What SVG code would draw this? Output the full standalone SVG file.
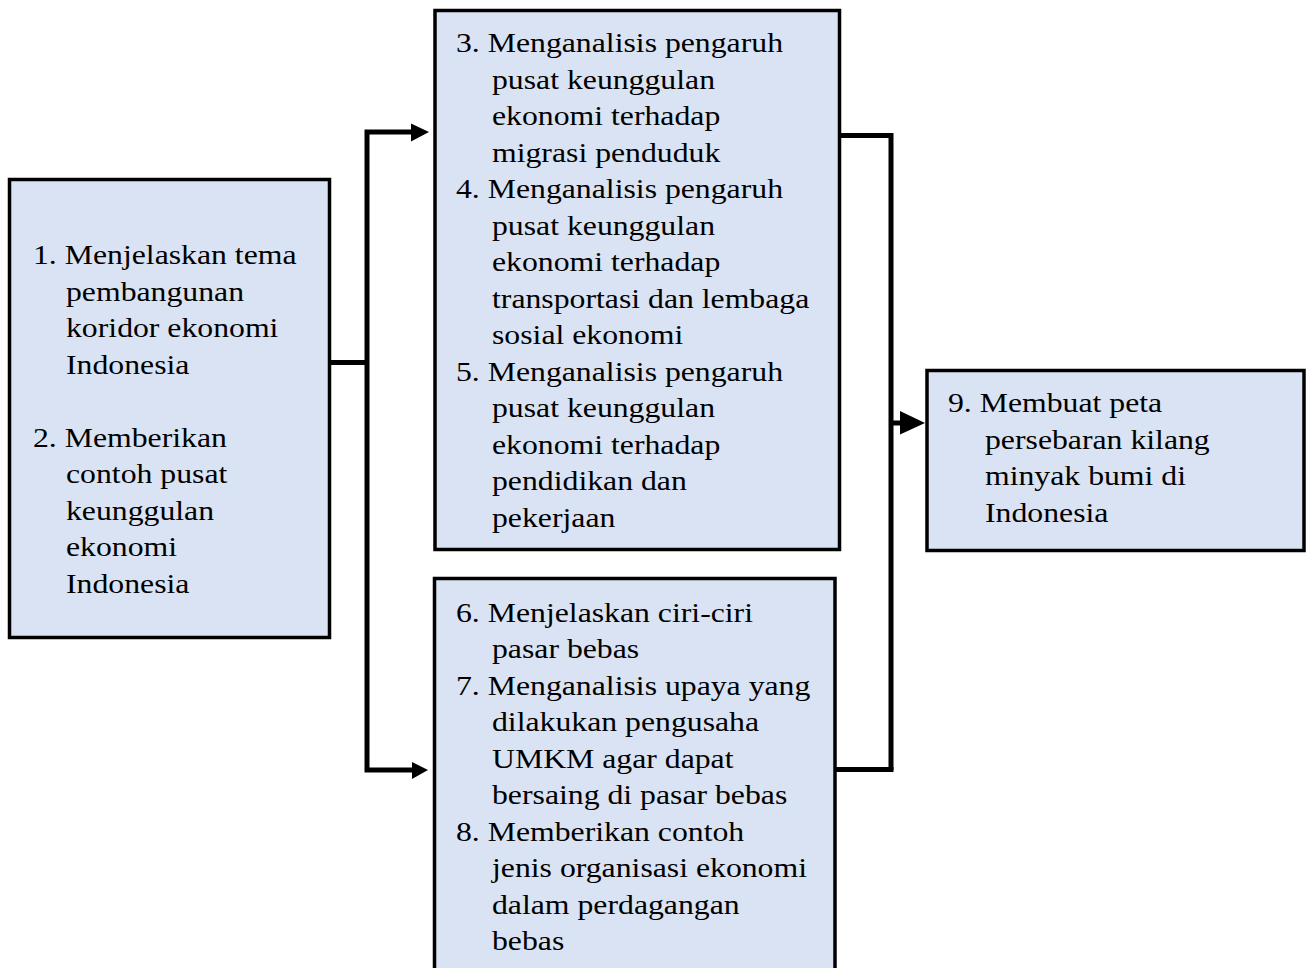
<svg xmlns="http://www.w3.org/2000/svg" width="1307" height="968" viewBox="0 0 1307 968">
<style>
.box{fill:#dae3f3;stroke:#000;stroke-width:3.5}
.t{font-family:"Liberation Serif","Times New Roman",serif;font-size:28px;fill:#000}
.ln{fill:none;stroke:#000;stroke-width:5;stroke-linejoin:miter;stroke-linecap:butt}
.ah{fill:#000}
</style>
<rect width="1307" height="968" fill="#fff"/>
<g id="connectors">
<path class="ln" d="M331 362.5 H367"/>
<path class="ln" d="M411 132 H367 V770 H412"/>
<polygon class="ah" points="411,123.5 429,132 411,141.5"/>
<polygon class="ah" points="412,762 428,770 412,779"/>
<path class="ln" d="M841 135.5 H891 V770"/>
<path class="ln" d="M836 769.5 H893.5"/>
<path class="ln" d="M891 423 H901"/>
<polygon class="ah" points="900,411 925,423 900,434.5"/>
</g>
<g id="node1">
<rect class="box" x="9.5" y="179.5" width="320" height="458"/>
<text class="t" transform="translate(33 264) scale(1.134 1)">1. Menjelaskan tema</text>
<text class="t" transform="translate(66 300.5) scale(1.134 1)">pembangunan</text>
<text class="t" transform="translate(66 337) scale(1.134 1)">koridor ekonomi</text>
<text class="t" transform="translate(66 373.5) scale(1.134 1)">Indonesia</text>
<text class="t" transform="translate(33 446.5) scale(1.134 1)">2. Memberikan</text>
<text class="t" transform="translate(66 483) scale(1.134 1)">contoh pusat</text>
<text class="t" transform="translate(66 519.5) scale(1.134 1)">keunggulan</text>
<text class="t" transform="translate(66 556) scale(1.134 1)">ekonomi</text>
<text class="t" transform="translate(66 592.5) scale(1.134 1)">Indonesia</text>
</g>
<g id="node2">
<rect class="box" x="435" y="10.5" width="404.5" height="539"/>
<text class="t" transform="translate(456 52) scale(1.134 1)">3. Menganalisis pengaruh</text>
<text class="t" transform="translate(492 88.5) scale(1.134 1)">pusat keunggulan</text>
<text class="t" transform="translate(492 125) scale(1.134 1)">ekonomi terhadap</text>
<text class="t" transform="translate(492 161.5) scale(1.134 1)">migrasi penduduk</text>
<text class="t" transform="translate(456 198) scale(1.134 1)">4. Menganalisis pengaruh</text>
<text class="t" transform="translate(492 234.5) scale(1.134 1)">pusat keunggulan</text>
<text class="t" transform="translate(492 271) scale(1.134 1)">ekonomi terhadap</text>
<text class="t" transform="translate(492 307.5) scale(1.134 1)">transportasi dan lembaga</text>
<text class="t" transform="translate(492 344) scale(1.134 1)">sosial ekonomi</text>
<text class="t" transform="translate(456 380.5) scale(1.134 1)">5. Menganalisis pengaruh</text>
<text class="t" transform="translate(492 417) scale(1.134 1)">pusat keunggulan</text>
<text class="t" transform="translate(492 453.5) scale(1.134 1)">ekonomi terhadap</text>
<text class="t" transform="translate(492 490) scale(1.134 1)">pendidikan dan</text>
<text class="t" transform="translate(492 526.5) scale(1.134 1)">pekerjaan</text>
</g>
<g id="node3">
<rect class="box" x="434.5" y="578.5" width="400.5" height="400"/>
<text class="t" transform="translate(456 621.5) scale(1.134 1)">6. Menjelaskan ciri-ciri</text>
<text class="t" transform="translate(492 658) scale(1.134 1)">pasar bebas</text>
<text class="t" transform="translate(456 694.5) scale(1.134 1)">7. Menganalisis upaya yang</text>
<text class="t" transform="translate(492 731) scale(1.134 1)">dilakukan pengusaha</text>
<text class="t" transform="translate(492 767.5) scale(1.134 1)">UMKM agar dapat</text>
<text class="t" transform="translate(492 804) scale(1.134 1)">bersaing di pasar bebas</text>
<text class="t" transform="translate(456 840.5) scale(1.134 1)">8. Memberikan contoh</text>
<text class="t" transform="translate(492 877) scale(1.134 1)">jenis organisasi ekonomi</text>
<text class="t" transform="translate(492 913.5) scale(1.134 1)">dalam perdagangan</text>
<text class="t" transform="translate(492 950) scale(1.134 1)">bebas</text>
</g>
<g id="node4">
<rect class="box" x="927" y="370.5" width="377" height="180"/>
<text class="t" transform="translate(948 412) scale(1.134 1)">9. Membuat peta</text>
<text class="t" transform="translate(985 448.5) scale(1.134 1)">persebaran kilang</text>
<text class="t" transform="translate(985 485) scale(1.134 1)">minyak bumi di</text>
<text class="t" transform="translate(985 521.5) scale(1.134 1)">Indonesia</text>
</g>
</svg>
